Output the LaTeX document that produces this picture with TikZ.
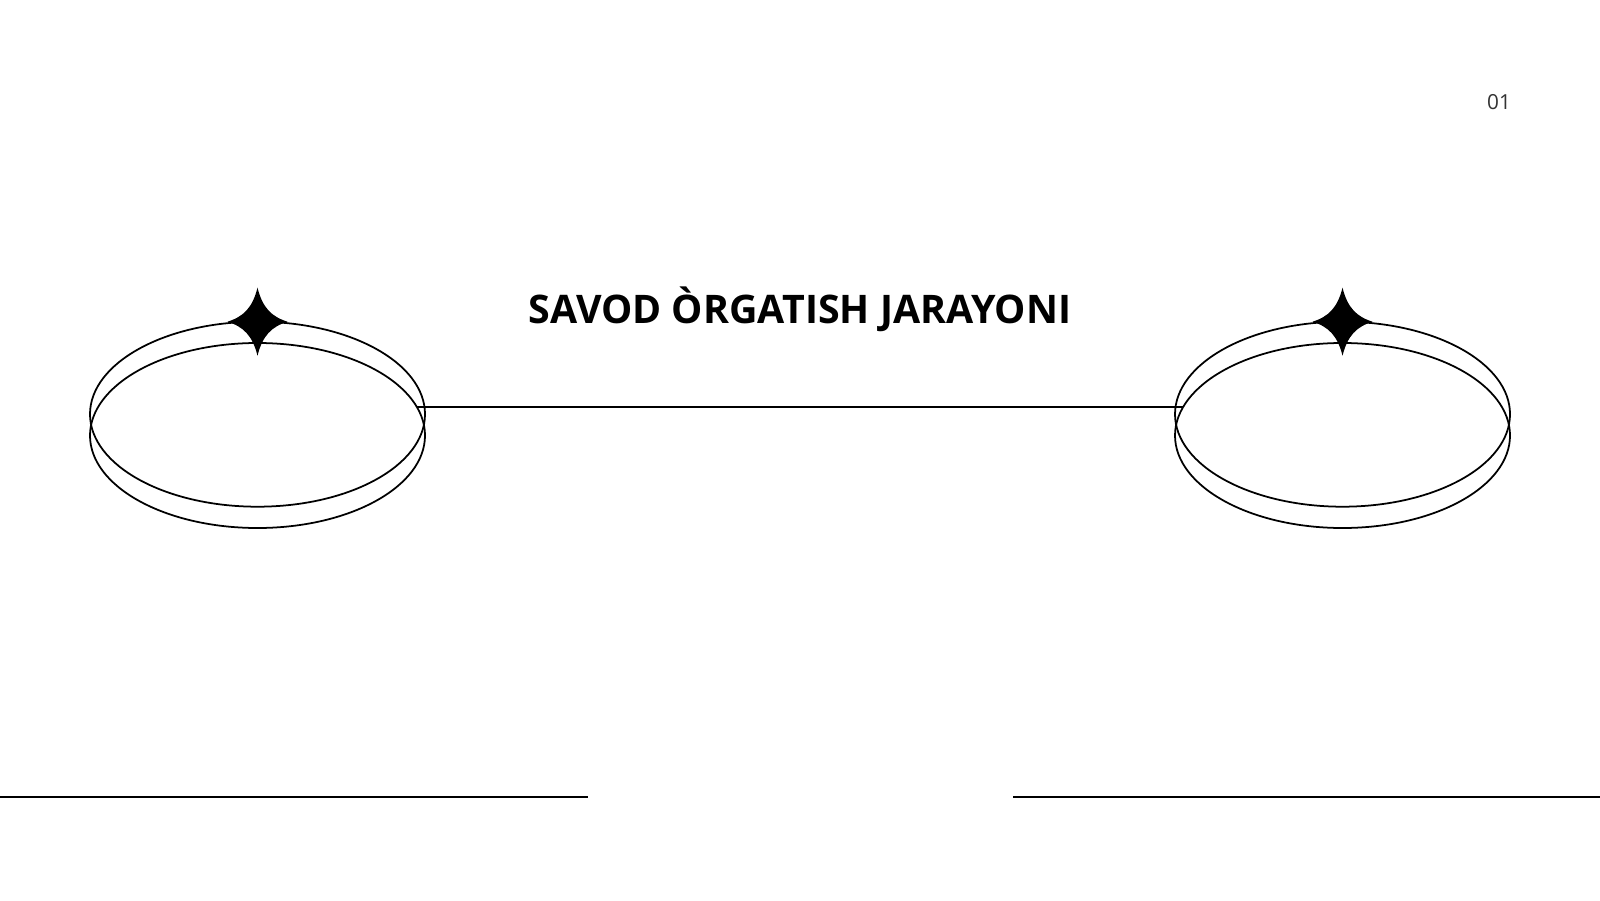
\documentclass[tikz,border=0pt]{standalone}
\usepackage{fontspec}
\setmainfont{Open Sans}
\usetikzlibrary{shapes.geometric}

\tikzset{
  ring/.style={ellipse, draw, line width=0.5pt, minimum width=3.35cm, minimum height=1.85cm, inner sep=0pt, outer sep=0pt},
  sparkle/.pic={
    \fill (0,0.34) .. controls (0.05,0.14) and (0.14,0.05) .. (0.30,0)
      .. controls (0.14,-0.05) and (0.05,-0.14) .. (0,-0.34)
      .. controls (-0.05,-0.14) and (-0.14,-0.05) .. (-0.30,0)
      .. controls (-0.14,0.05) and (-0.05,0.14) .. (0,0.34) -- cycle;
  }
}

\begin{document}
\begin{tikzpicture}[line width=0.55pt]
	\useasboundingbox[fill=white] (0,0) rectangle (16,9);

	% left pair of rings
	\node[ring] (upL) at (2.575, 4.858) {};
	\node[ring] (lowL) at (2.575, 4.645) {};
	% right pair of rings
	\node[ring] (upR) at (13.425, 4.858) {};
	\node[ring] (lowR) at (13.425, 4.645) {};

	\pic at (upL.north) {sparkle};
	\pic at (upR.north) {sparkle};

	\draw (lowL.10) -- (lowR.170);

	\node[font=\bfseries\fontsize{11.2}{14}\selectfont] (title) at (8.0, 5.91) {SAVOD ÒRGATISH JARAYONI};
	\node[font=\fontsize{5.9}{7}\selectfont, text=black!80] (num) at (14.99, 7.98) {01};

	% bottom rules
	\coordinate (bl1) at (0, 1.03);
	\coordinate (bl2) at (5.878, 1.03);
	\coordinate (br1) at (10.13, 1.03);
	\coordinate (br2) at (16, 1.03);
	\draw (bl1) -- (bl2);
	\draw (br1) -- (br2);
\end{tikzpicture}
\end{document}
